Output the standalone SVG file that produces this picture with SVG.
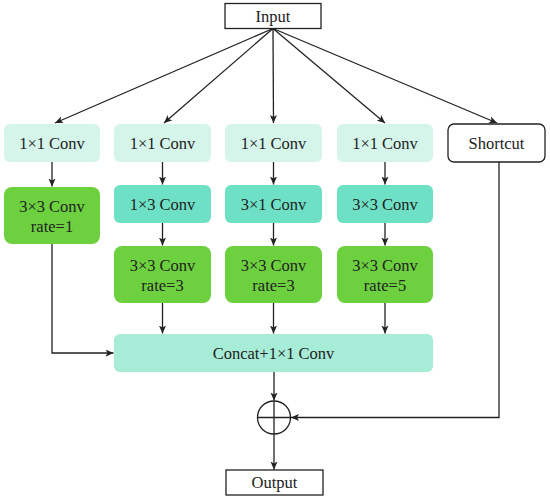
<svg xmlns="http://www.w3.org/2000/svg" width="550" height="499" viewBox="0 0 550 499">
<defs>
<marker id="ah" viewBox="0 0 10 10" refX="10" refY="5" markerWidth="8" markerHeight="8" markerUnits="userSpaceOnUse" orient="auto">
<path d="M0,0.5 L10,5 L0,9.5 L2.5,5 Z" fill="#222"/>
</marker>
</defs>
<style>
text{font-family:"Liberation Serif","DejaVu Serif",serif;font-size:16.5px;fill:#222;text-anchor:middle}
.c1{fill:#d5f5ea}
.c2{fill:#6ee0c5}
.c3{fill:#6dd13f}
.c4{fill:#a6ecd6}
.wb{fill:#fff;stroke:#222;stroke-width:1.3}
.ln{fill:none;stroke:#222;stroke-width:1.3}
.ar{fill:none;stroke:#222;stroke-width:1.3;marker-end:url(#ah)}
</style>
<g id="input"><rect class="wb" x="225" y="3.5" width="96" height="25"/><text x="273" y="21.5">Input</text></g>
<g id="conv1x1_a"><rect class="c1" x="4" y="124" width="96" height="38" rx="6"/><text x="52" y="148.5">1×1 Conv</text></g>
<g id="conv1x1_b"><rect class="c1" x="114" y="124" width="97" height="38" rx="6"/><text x="162.5" y="148.5">1×1 Conv</text></g>
<g id="conv1x1_c"><rect class="c1" x="225" y="124" width="97" height="38" rx="6"/><text x="273.5" y="148.5">1×1 Conv</text></g>
<g id="conv1x1_d"><rect class="c1" x="337" y="124" width="96" height="38" rx="6"/><text x="385" y="148.5">1×1 Conv</text></g>
<g id="shortcut"><rect class="wb" x="448" y="124" width="97" height="38" rx="6"/><text x="496.5" y="148.5">Shortcut</text></g>
<g id="conv3x3_r1"><rect class="c3" x="4" y="187" width="96" height="57" rx="8"/><text x="52" y="212">3×3 Conv</text><text x="52" y="232">rate=1</text></g>
<g id="conv1x3"><rect class="c2" x="114" y="185" width="97" height="38" rx="6"/><text x="162.5" y="209.5">1×3 Conv</text></g>
<g id="conv3x1"><rect class="c2" x="225" y="185" width="97" height="38" rx="6"/><text x="273.5" y="209.5">3×1 Conv</text></g>
<g id="conv3x3"><rect class="c2" x="337" y="185" width="96" height="38" rx="6"/><text x="385" y="209.5">3×3 Conv</text></g>
<g id="conv3x3_r3a"><rect class="c3" x="114" y="246" width="97" height="57" rx="8"/><text x="162.5" y="271">3×3 Conv</text><text x="162.5" y="291">rate=3</text></g>
<g id="conv3x3_r3b"><rect class="c3" x="225" y="246" width="97" height="57" rx="8"/><text x="273.5" y="271">3×3 Conv</text><text x="273.5" y="291">rate=3</text></g>
<g id="conv3x3_r5"><rect class="c3" x="337" y="246" width="96" height="57" rx="8"/><text x="385" y="271">3×3 Conv</text><text x="385" y="291">rate=5</text></g>
<g id="concat"><rect class="c4" x="114" y="334" width="319" height="38" rx="6"/><text x="273.5" y="358.5">Concat+1×1 Conv</text></g>
<g id="add"><circle class="ln" cx="274" cy="417.5" r="16.5"/><line class="ln" x1="257.5" y1="417.5" x2="290.5" y2="417.5"/><line class="ln" x1="274" y1="401" x2="274" y2="434"/></g>
<g id="output"><rect class="wb" x="226" y="470" width="97" height="25"/><text x="274.5" y="488">Output</text></g>
<g id="connectors">
<line class="ar" x1="273" y1="28.5" x2="55" y2="123"/>
<line class="ar" x1="273" y1="28.5" x2="164" y2="123"/>
<line class="ar" x1="273" y1="28.5" x2="273.5" y2="123"/>
<line class="ar" x1="273" y1="28.5" x2="385" y2="123"/>
<line class="ar" x1="273" y1="28.5" x2="497" y2="123"/>
<line class="ar" x1="52" y1="162" x2="52" y2="186.5"/>
<line class="ar" x1="162.5" y1="162" x2="162.5" y2="184.5"/>
<line class="ar" x1="273.5" y1="162" x2="273.5" y2="184.5"/>
<line class="ar" x1="385" y1="162" x2="385" y2="184.5"/>
<line class="ar" x1="162.5" y1="223" x2="162.5" y2="245.5"/>
<line class="ar" x1="273.5" y1="223" x2="273.5" y2="245.5"/>
<line class="ar" x1="385" y1="223" x2="385" y2="245.5"/>
<line class="ar" x1="162.5" y1="303" x2="162.5" y2="333.5"/>
<line class="ar" x1="273.5" y1="303" x2="273.5" y2="333.5"/>
<line class="ar" x1="385" y1="303" x2="385" y2="333.5"/>
<polyline class="ar" points="52,244 52,353 113.5,353"/>
<line class="ar" x1="274" y1="372" x2="274" y2="400.5"/>
<polyline class="ar" points="499,162 499,417.5 291,417.5"/>
<line class="ar" x1="274" y1="434" x2="274" y2="469.5"/>
</g>
</svg>
